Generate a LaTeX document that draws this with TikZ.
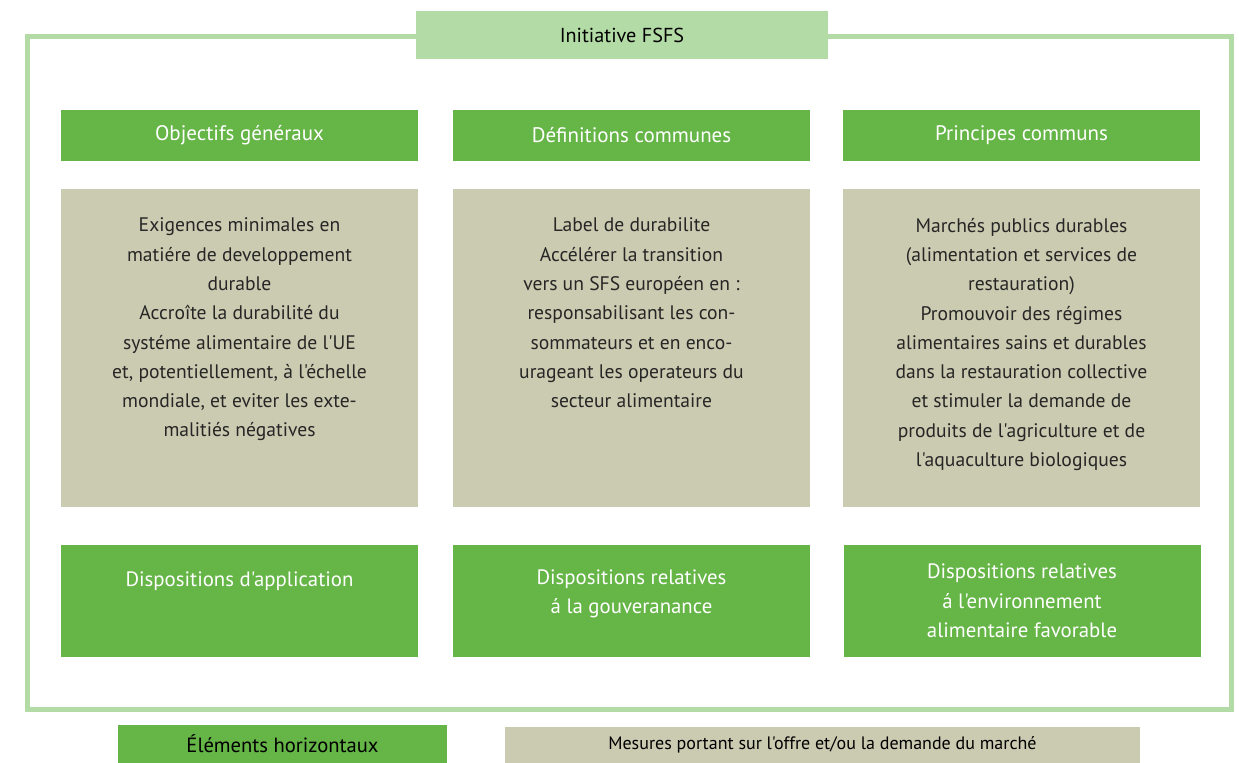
\documentclass[tikz,border=0pt]{standalone}
\usepackage{fontspec}
\setmainfont{PT Sans}[Ligatures=TeXOff]
\usetikzlibrary{positioning}
\definecolor{lightgreen}{RGB}{179,219,165}
\definecolor{darkgreen}{RGB}{101,181,71}
\definecolor{beige}{RGB}{203,203,177}
\tikzstyle{frame} = [draw=lightgreen, line width=2.5pt]
\tikzstyle{head} = [fill=darkgreen, minimum width=178.5pt, minimum height=25.5pt, text=white, font=\fontsize{10.5}{14.65}\selectfont]
\tikzstyle{panel} = [fill=beige, minimum width=178.5pt, minimum height=159pt]
\tikzstyle{panetext} = [align=center, font=\fontsize{9.8}{14.65}\selectfont, text=black!85]
\tikzstyle{foot} = [fill=darkgreen, minimum width=178.5pt, minimum height=56pt]
\tikzstyle{foottext} = [align=center, text=white, font=\fontsize{10.4}{14.65}\selectfont]

\begin{document}
\begin{tikzpicture}[
			x = 0.5pt, y = -0.5pt,
			every node/.style = {inner sep = 0pt, outer sep = 0pt}]
			\useasboundingbox (0,0) rectangle (1239,762);
			% outer frame
			\draw[frame] (27,36) rectangle (1231,709);
			\node[fill = lightgreen, minimum width = 206pt, minimum height = 24pt, font = \fontsize{10.1}{12}\selectfont] (title) at (622,35) {Initiative FSFS};

			% headers
			\node[head] (obj) at (239.5,135.5) {Objectifs généraux};
			\node[head] (def) at (631.5,135.5) {Définitions communes};
			\node[head] (pri) at (1021.5,135.5) {Principes communs};

			% panels
			\node[panel] (pobj) at (239.5,348) {};
			\node[panel] (pdef) at (631.5,348) {};
			\node[panel] (ppri) at (1021.5,348) {};
			\node[panetext, below = 14.5pt of pobj.north] (tobj) {Exigences minimales en\\matiére de developpement\\durable\\Accroîte la durabilité du\\systéme alimentaire de l'UE\\et, potentiellement, à l'échelle\\mondiale, et eviter les exte-\\malitiés négatives};
			\node[panetext, below = 14.5pt of pdef.north] (tdef) {Label de durabilite\\Accélérer la transition\\vers un SFS européen en :\\responsabilisant les con-\\sommateurs et en enco-\\urageant les operateurs du\\secteur alimentaire};
			\node[panetext, below = 14.5pt of ppri.north] (tpri) {Marchés publics durables\\(alimentation et services de\\restauration)\\Promouvoir des régimes\\alimentaires sains et durables\\dans la restauration collective\\et stimuler la demande de\\produits de l'agriculture et de\\l'aquaculture biologiques};

			% dispositions
			\node[foot] (dapp) at (239.5,601) {};
			\node[foot] (dgov) at (631.5,601) {};
			\node[foot] (denv) at (1022,601) {};
			\node[foottext] (tapp) at (239.5,581) {Dispositions d'application};
			\node[foottext] (tgov) at (631.5,594) {Dispositions relatives\\á la gouveranance};
			\node[foottext] (tenv) at (1022,601) {Dispositions relatives\\á l'environnement\\alimentaire favorable};

			% legend
			\node[fill = darkgreen, minimum width = 164.5pt, minimum height = 19pt, font = \fontsize{10.3}{12}\selectfont] (lgreen) at (282.5,743.5) {Éléments horizontaux};
			\node[fill = beige, minimum width = 317.5pt, minimum height = 18pt, font = \fontsize{9}{10}\selectfont] (lbeige) at (822.5,745) {Mesures portant sur l'offre et/ou la demande du marché};
		\end{tikzpicture}
\end{document}
